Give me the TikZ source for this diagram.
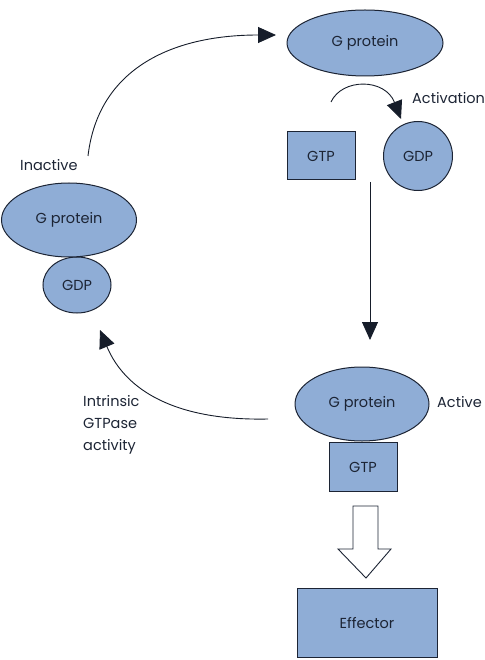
\documentclass[tikz,border=0pt]{standalone}
\usepackage{fontspec}
\setmainfont{Poppins}
\usetikzlibrary{arrows.meta}
\definecolor{fillb}{RGB}{143,173,214}
\definecolor{ink}{RGB}{28,36,52}
\tikzset{
  every node/.style={font=\fontsize{14.5}{17}\selectfont, text=ink},
  blob/.style={draw=ink, line width=1pt, fill=fillb, ellipse, inner sep=0pt},
  boxx/.style={draw=ink, line width=1pt, fill=fillb, rectangle, inner sep=0pt},
  conn/.style={draw=ink!80!black, line width=0.9pt, -{Triangle[length=18pt,width=16pt]}},
}
\usetikzlibrary{shapes.geometric}
\begin{document}
\begin{tikzpicture}[x=1pt,y=-1pt]
\useasboundingbox (0,0) rectangle (484,660);
% top G protein
\node[blob, minimum width=156pt, minimum height=66pt] (gtop) at (365,43) {G protein};
\node[boxx, minimum width=68pt, minimum height=48pt] (gtp1) at (321,156) {GTP};
\node[blob, circle, minimum size=69pt] (gdp1) at (418,156) {GDP};
\node[anchor=west, inner sep=0pt] (act) at (412,98) {Activation};
% inactive
\node[blob, minimum width=68pt, minimum height=56pt] (gdp2) at (77,285) {GDP};
\node[blob, minimum width=135pt, minimum height=74pt] (gin) at (69,220) {G protein};
\node[anchor=west, inner sep=0pt] (inact) at (20,165) {Inactive};
% active
\node[boxx, minimum width=68pt, minimum height=49pt] (gtp2) at (363,467) {GTP};
\node[blob, minimum width=134pt, minimum height=74pt] (gact) at (362,404) {G protein};
\node[anchor=west, inner sep=0pt] (actv) at (437,402) {Active};
\node[anchor=west, align=left, inner sep=0pt, font=\fontsize{14.5}{22}\selectfont] (intr) at (83,425) {Intrinsic\\GTPase\\activity};
% effector
\node[boxx, minimum width=140pt, minimum height=69pt] (eff) at (367,623) {Effector};
% connectors
\coordinate (c1s) at (88,156);
\coordinate (c1e) at (276,35);
\draw[conn] (c1s) .. controls (98,70) and (170,35) .. (c1e);
\coordinate (c2s) at (331,102);
\coordinate (c2e) at (401,119);
\draw[conn] (c2s) .. controls (342,78) and (385,78) .. (c2e);
\coordinate (c3s) at (370,182);
\coordinate (c3e) at (370,340);
\draw[conn] (c3s) -- (c3e);
\coordinate (c4s) at (268,419);
\coordinate (c4e) at (100,330);
\draw[conn] (c4s) .. controls (175,421) and (125,390) .. (c4e);
% hollow arrow
\draw[draw=ink, line width=0.9pt, fill=white] (353,506) -- (378,506) -- (378,549) -- (391,549) -- (366,578) -- (338,549) -- (353,549) -- cycle;
\end{tikzpicture}
\end{document}
